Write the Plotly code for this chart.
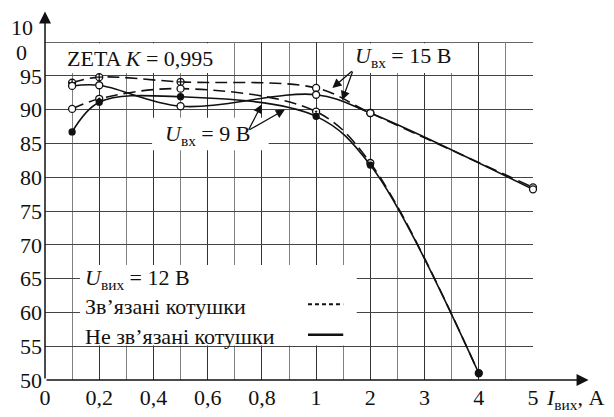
import plotly.graph_objects as go

# Output current, A, and efficiency, % (ZETA converter, coupling K = 0.995)
i_15 = [0.1, 0.2, 0.5, 1, 2, 5]
eff_15_coupled = [94.0, 94.8, 94.1, 93.2, 89.5, 78.5]
eff_15_uncoupled = [93.5, 93.6, 90.5, 92.2, 89.5, 78.2]

i_9 = [0.1, 0.2, 0.5, 1, 2, 4]
eff_9_coupled = [90.1, 91.6, 93.1, 89.7, 82.1, 51.0]
eff_9_uncoupled = [86.7, 91.1, 91.9, 89.0, 81.8, 51.0]

x_tick_values = [0, 0.2, 0.4, 0.6, 0.8, 1, 2, 3, 4, 5]
x_tick_labels = ["0", "0,2", "0,4", "0,6", "0,8", "1", "2", "3", "4", "5"]
x_minor_values = [0.1, 0.3, 0.5, 0.7, 0.9, 1.5, 2.5, 3.5, 4.5]
y_tick_values = [50, 55, 60, 65, 70, 75, 80, 85, 90, 95]


def u(x):
    """Piecewise axis: 0..1 A stretched tenfold, 1..5 A at two units per ampere."""
    return x * 10 if x <= 1 else 10 + (x - 1) * 2


def us(xs):
    return [u(v) for v in xs]


FONT = "Liberation Serif, DejaVu Serif, Times New Roman, Liberation Sans, sans-serif"
BLACK = "#111111"

fig = go.Figure()


def curve(xs, ys, dash, symbols, fill, size=7):
    fig.add_trace(go.Scatter(
        x=us(xs), y=ys, mode="lines+markers",
        line=dict(color=BLACK, width=1.6, dash=dash, shape="spline", smoothing=1.0),
        marker=dict(symbol=symbols, size=size, color=fill,
                    line=dict(color=BLACK, width=1.3)),
        showlegend=False, cliponaxis=False,
    ))


LONG_DASH = "12px,6px"
curve(i_15, eff_15_coupled, LONG_DASH,
      ["circle-cross", "circle-cross", "circle-cross", "circle", "circle", "circle"], "white")
curve(i_15, eff_15_uncoupled, "solid", ["circle"] * 6, "white")
curve(i_9, eff_9_coupled, LONG_DASH,
      ["circle", "circle-dot", "circle", "circle-dot", "circle", "circle"], "white")
curve(i_9, eff_9_uncoupled, "solid", ["circle"] * 6, BLACK, size=6)

# white backing boxes for the in-plot captions and the key
boxes = [
    (0.1, 6.75, 95.4, 99.8),    # ZETA caption
    (11.2, 15.2, 95.4, 99.8),   # U = 15 V caption
    (3.95, 8.25, 84.0, 88.8),   # U = 9 V caption
    (1.29, 11.5, 55.1, 67.0),   # key
]
shapes = []
for x0, x1, y0, y1 in boxes:
    shapes.append(dict(type="rect", xref="x", yref="y", x0=x0, x1=x1, y0=y0, y1=y1,
                       fillcolor="white", line=dict(width=0), layer="between"))

# key line samples
shapes.append(dict(type="line", xref="x", yref="y", x0=9.7, x1=11.0, y0=61.2, y1=61.2,
                   line=dict(color=BLACK, width=2, dash="4px,3px"), layer="above"))
shapes.append(dict(type="line", xref="x", yref="y", x0=9.7, x1=11.0, y0=56.7, y1=56.7,
                   line=dict(color=BLACK, width=2.5), layer="above"))

FS = 22
annotations = []


def text(x, y, s, xanchor="center", yanchor="middle", xref="x", yref="y", size=FS, align="left"):
    annotations.append(dict(x=x, y=y, xref=xref, yref=yref, text=s, showarrow=False,
                            xanchor=xanchor, yanchor=yanchor, align=align,
                            font=dict(family=FONT, size=size, color=BLACK)))


text(3.5, 97.6, "ZETA <i>K</i> = 0,995")
text(13.2, 97.8, "<i>U</i><sub>вх</sub> = 15 В")
text(6.0, 86.3, "<i>U</i><sub>вх</sub> = 9 В")
text(1.4, 64.9, "<i>U</i><sub>вих</sub> = 12 В", xanchor="left")
text(1.4, 60.8, "Зв’язані котушки", xanchor="left")
text(1.4, 56.4, "Не зв’язані котушки", xanchor="left")
text(0.18, 103.3, "ККД, %", xanchor="left")
text(1.0225, -0.057, "<i>I</i><sub>вих</sub>, А", xanchor="left", xref="paper", yref="paper")
# the 100 % label is set on two lines, straddling the top grid line
text(-0.047, 1.044, "10", xref="paper", yref="paper")
text(-0.049, 0.968, "0", xref="paper", yref="paper")

# axis arrows
ARW = dict(showarrow=True, arrowhead=2, arrowsize=1.6, arrowwidth=1.5, arrowcolor=BLACK,
           axref="x", ayref="y", standoff=0, startstandoff=0, text="")
annotations.append(dict(x=20.05, y=50, ax=0, ay=50, **ARW))
annotations.append(dict(x=0, y=104.5, ax=0, ay=50, **ARW))

# pointers from the captions to the curves
PTR = dict(showarrow=True, arrowhead=2, arrowsize=1.4, arrowwidth=1.3, arrowcolor=BLACK,
           axref="pixel", ayref="pixel", standoff=0, text="")
annotations.append(dict(x=8.0, y=90.8, ax=-14, ay=27, **PTR))
annotations.append(dict(x=8.85, y=90.0, ax=-37, ay=21, **PTR))
annotations.append(dict(x=10.6, y=93.2, ax=21, ay=-18, **PTR))
annotations.append(dict(x=10.96, y=91.4, ax=11, ay=-30, **PTR))

fig.update_layout(
    width=614, height=417,
    margin=dict(l=45, r=81, t=42, b=37, autoexpand=False),
    paper_bgcolor="white", plot_bgcolor="white",
    font=dict(family=FONT, size=FS, color=BLACK),
    shapes=shapes, annotations=annotations,
    xaxis=dict(
        range=[0, 18], tickmode="array", tickvals=us(x_tick_values), ticktext=x_tick_labels,
        showgrid=True, gridcolor="#333333", gridwidth=1.4, zeroline=False, showline=False,
        ticks="", ticklabelstandoff=2, automargin=False,
        minor=dict(tickmode="array", tickvals=us(x_minor_values), showgrid=True,
                   gridcolor="#808080", gridwidth=1.4, ticks=""),
    ),
    yaxis=dict(
        range=[50, 100], tickmode="array", tickvals=y_tick_values,
        ticktext=[str(v) for v in y_tick_values],
        showgrid=True, gridcolor="#444444", gridwidth=1.4, zeroline=False, showline=False,
        ticks="", ticklabelstandoff=2, automargin=False,
    ),
)
# top boundary grid line at 100 %
fig.add_hline(y=100, line=dict(color="#333333", width=1.4), layer="below")

fig.write_html("out.html")
